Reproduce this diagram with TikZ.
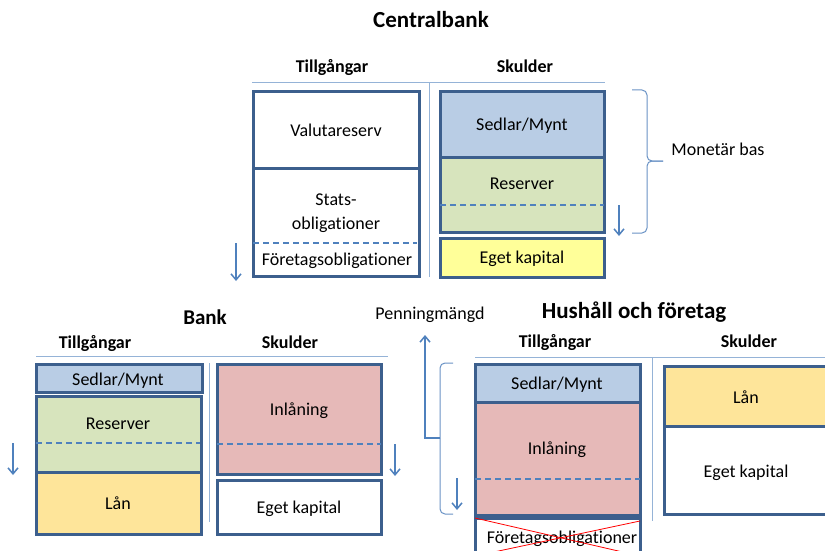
\documentclass[tikz,border=0pt]{standalone}
\usepackage{fontspec}
\setmainfont{Carlito}[Ligatures=NoCommon]
\usetikzlibrary{arrows.meta,fit}

\definecolor{edge}{HTML}{3C5F8D}
\definecolor{coinfill}{HTML}{B9CDE5}
\definecolor{resfill}{HTML}{D7E4BD}
\definecolor{depfill}{HTML}{E6B9B8}
\definecolor{loanfill}{HTML}{FEE59A}
\definecolor{eqfill}{HTML}{FFFF99}
\definecolor{rule}{HTML}{95B3D7}
\definecolor{accent}{HTML}{4F81BD}
\definecolor{bracecol}{HTML}{6A93C6}

\tikzset{
  cell/.style={draw=edge, line width=3pt, inner sep=0pt, outer sep=0pt},
  txt/.style={font=\fontsize{18}{22}\selectfont, inner sep=0pt, anchor=base},
  head/.style={font=\fontsize{18}{22}\selectfont\bfseries, inner sep=0pt, anchor=base},
  ttl/.style={font=\fontsize{23}{27}\selectfont\bfseries, inner sep=0pt, anchor=base},
  hrule/.style={draw=rule, line width=1pt},
  dashline/.style={draw=accent, line width=1.5pt, dash pattern=on 6pt off 4pt},
  flow/.style={draw=accent, line width=1.5pt, -{Straight Barb[length=6pt,width=10pt,line width=1.5pt]}},
  bracel/.style={draw=bracecol, line width=1pt, rounded corners=5pt},
  cross/.style={draw=red, line width=0.8pt}
}

\begin{document}
\begin{tikzpicture}[x=1pt, y=-1pt]
\useasboundingbox (0,0) rectangle (825,551);
\clip (0,0) rectangle (825,551);
\fill[white] (0,0) rectangle (825,551);

% ---------------- Centralbank ----------------
\node[ttl] (cbTitle) at (431,28) {Centralbank};
\node[head] (cbAssets) at (332,73) {Tillgångar};
\node[head] (cbDebts) at (525,73) {Skulder};
\draw[hrule] (252,83) -- (605,83);
\draw[hrule] (429,83) -- (429,277);

\node[cell, fill=white, fit={(253,92) (419,168)}] (cbVal) {};
\node[cell, fill=white, fit={(253,168) (419,276)}] (cbStats) {};
\node[cell, fill=coinfill, fit={(440,92) (604,157)}] (cbCoin) {};
\node[cell, fill=resfill, fit={(440,157) (604,232)}] (cbRes) {};
\node[cell, fill=eqfill, fit={(440,238) (604,277)}] (cbEq) {};

\draw[dashline] (253,243) -- (417,243);
\draw[dashline] (440,205) -- (604,205);

\node[txt] (tVal) at (336,136) {Valutareserv};
\node[txt] (tStats) at (336,205) {Stats-};
\node[txt] (tObl) at (336,229) {obligationer};
\node[txt] (tCorp) at (337,265) {Företagsobligationer};
\node[txt] (tCoin) at (522,130) {Sedlar/Mynt};
\node[txt] (tRes) at (522,189) {Reserver};
\node[txt] (tEq) at (522,263) {Eget kapital};

\coordinate (cbA1) at (236,243);
\coordinate (cbA2) at (236,281);
\coordinate (cbB1) at (619,205);
\coordinate (cbB2) at (619,236);
\draw[flow] (cbA1) -- (cbA2);
\draw[flow] (cbB1) -- (cbB2);

\coordinate (mbTop) at (632,90);
\coordinate (mbBot) at (632,233);
\coordinate (mbTip) at (663,161);
\draw[bracel] (mbTop) -- (647,90) -- (647,161) -- (mbTip);
\draw[bracel] (mbBot) -- (647,233) -- (647,161) -- (mbTip);
\node[txt] (tMb) at (718,155) {Monetär bas};

% ---------------- Bank ----------------
\node[ttl, font=\fontsize{21}{25}\selectfont\bfseries] (bkTitle) at (205,324) {Bank};
\node[head] (bkAssets) at (95,348) {Tillgångar};
\node[head] (bkDebts) at (290,348) {Skulder};
\draw[hrule] (36,356) -- (388,356);
\draw[hrule] (209,363) -- (209,522);

\node[cell, fill=coinfill, fit={(36,364) (202,392)}] (bkCoin) {};
\node[cell, fill=resfill, fit={(36,396) (201,472)}] (bkRes) {};
\node[cell, fill=loanfill, fit={(36,472) (201,534)}] (bkLoan) {};
\node[cell, fill=depfill, fit={(217,364) (381,474)}] (bkDep) {};
\node[cell, fill=white, fit={(217,480) (381,534)}] (bkEq) {};

\draw[dashline] (36,443) -- (200,443);
\draw[dashline] (217,444) -- (381,444);

\node[txt] (tbCoin) at (118,385) {Sedlar/Mynt};
\node[txt] (tbRes) at (118,429) {Reserver};
\node[txt] (tbLoan) at (118,509) {Lån};
\node[txt] (tbDep) at (299,415) {Inlåning};
\node[txt] (tbEq) at (299,513) {Eget kapital};

\coordinate (bkA1) at (13,443);
\coordinate (bkA2) at (13,475);
\coordinate (bkB1) at (395,444);
\coordinate (bkB2) at (395,476);
\draw[flow] (bkA1) -- (bkA2);
\draw[flow] (bkB1) -- (bkB2);

% ---------------- Hushåll och företag ----------------
\node[ttl] (hhTitle) at (634,318) {Hushåll och företag};
\node[txt] (tPm) at (430,319) {Penningmängd};
\node[head] (hhAssets) at (555,347) {Tillgångar};
\node[head] (hhDebts) at (749,347) {Skulder};
\draw[hrule] (475,357) -- (825,357);
\draw[hrule] (652,357) -- (652,521);

\node[cell, fill=coinfill, fit={(475,364) (640,402)}] (hhCoin) {};
\node[cell, fill=depfill, fit={(475,402) (640,515)}] (hhDep) {};
\node[cell, fill=white, fit={(475,518) (640,566)}] (hhCorp) {};
\node[cell, fill=loanfill, fit={(664,366) (840,426)}] (hhLoan) {};
\node[cell, fill=white, fit={(664,426) (840,514)}] (hhEq) {};

\draw[dashline] (475,479) -- (640,479);

\node[txt] (thCoin) at (557,389) {Sedlar/Mynt};
\node[txt] (thDep) at (557,454) {Inlåning};
\node[txt] (thCorp) at (562,543) {Företagsobligationer};
\node[txt] (thLoan) at (746,403) {Lån};
\node[txt] (thEq) at (746,477) {Eget kapital};

\draw[cross] (hhCorp.north west) -- (640,556);
\draw[cross] (640,521) -- (475,556);

\coordinate (pmTop) at (453,363);
\coordinate (pmBot) at (453,514);
\coordinate (pmTip) at (440,438);
\coordinate (pmEnd) at (425,335);
\draw[bracel] (pmTop) -- (440,363) -- (pmTip);
\draw[bracel] (pmBot) -- (440,514) -- (pmTip);
\draw[flow, line width=1.2pt] (pmTip) -| (pmEnd);

\coordinate (hhA1) at (457,478);
\coordinate (hhA2) at (457,510);
\draw[flow] (hhA1) -- (hhA2);
\end{tikzpicture}
\end{document}
